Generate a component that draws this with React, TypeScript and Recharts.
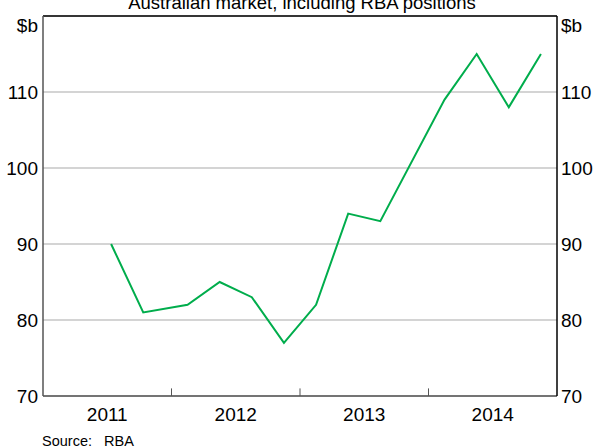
import { LineChart, Line, XAxis, YAxis, CartesianGrid, ReferenceLine } from 'recharts';

// quarterly observations, x = decimal year
const dates = [2011.53, 2011.78, 2012.125, 2012.375, 2012.625, 2012.875, 2013.125, 2013.375, 2013.625, 2014.125, 2014.375, 2014.625, 2014.875];
const values = [90, 81, 82, 85, 83, 77, 82, 94, 93, 109, 115, 108, 115];

const yTicks = [70, 80, 90, 100, 110, 120];
const yearLabels = ['2011', '2012', '2013', '2014'];
const yearBounds = [2012, 2013, 2014];

const TITLE = 'Australian market, including RBA positions';
const UNIT = '$b';

const FONT = '"Liberation Sans", Arial, sans-serif';
const GREEN = '#00ad4c';

const data = dates.map((t, i) => ({ t, v: values[i] }));
const yearTicks = yearLabels.map((y) => Number(y) + 0.5);

const YTick = (props: any) => {
  const { x, y, payload, textAnchor } = props;
  const isTop = payload.value === yTicks[yTicks.length - 1];
  return (
    <text x={x} y={isTop ? y + 9 : y} dy="0.355em" textAnchor={textAnchor} fill="#000" fontSize={19} fontFamily={FONT}>
      {isTop ? UNIT : payload.value}
    </text>
  );
};

export default function App() {
  return (
    <div style={{ position: 'relative', width: 597, height: 448, background: '#fff' }}>
      <style>{`body{margin:0}`}</style>
      <LineChart width={597} height={448} data={data} margin={{ top: 16, right: 0, bottom: 0, left: 0 }}>
        <CartesianGrid horizontal vertical={false} stroke="#c6c6c6" strokeWidth={1.5} yAxisId="left" />
        <XAxis
          dataKey="t"
          type="number"
          domain={[2011, 2015]}
          ticks={yearTicks}
          tickFormatter={(v: number) => String(Math.floor(v))}
          allowDataOverflow
          height={52}
          tickLine={false}
          tickSize={0}
          tickMargin={12}
          axisLine={{ stroke: '#555', strokeWidth: 1.5 }}
          tick={{ fill: '#000', fontSize: 19, fontFamily: FONT }}
        />
        <YAxis
          yAxisId="left"
          domain={[70, 120]}
          ticks={yTicks}
          width={43}
          tickLine={false}
          tickSize={0}
          tickMargin={5}
          axisLine={{ stroke: '#555', strokeWidth: 1.5 }}
          tick={<YTick />}
        />
        <YAxis
          yAxisId="right"
          orientation="right"
          domain={[70, 120]}
          ticks={yTicks}
          width={40}
          tickLine={false}
          tickSize={0}
          tickMargin={4}
          axisLine={{ stroke: '#000', strokeWidth: 1.5 }}
          tick={<YTick />}
        />
        <ReferenceLine yAxisId="left" y={120} stroke="#000" strokeWidth={1.5} />
        {yearBounds.map((b) => (
          <ReferenceLine
            key={b}
            yAxisId="left"
            segment={[{ x: b, y: 70 }, { x: b, y: 71 }]}
            stroke="#555"
            strokeWidth={1}
          />
        ))}
        {/* invisible copy so the right axis gets rendered */}
        <Line
          yAxisId="right"
          type="linear"
          dataKey="v"
          stroke="none"
          dot={false}
          activeDot={false}
          isAnimationActive={false}
        />
        <Line
          yAxisId="left"
          type="linear"
          dataKey="v"
          stroke={GREEN}
          strokeWidth={2}
          dot={false}
          isAnimationActive={false}
        />
      </LineChart>
      <svg width={597} height={448} style={{ position: 'absolute', left: 0, top: 0, pointerEvents: 'none' }}>
        <text x={302} y={9} textAnchor="middle" fontSize={18.5} fontFamily={FONT} fill="#000">
          {TITLE}
        </text>
        <text x={42} y={446} fontSize={14.5} fontFamily={FONT} fill="#000">Source:</text>
        <text x={104} y={446} fontSize={14.5} fontFamily={FONT} fill="#000">RBA</text>
      </svg>
    </div>
  );
}
